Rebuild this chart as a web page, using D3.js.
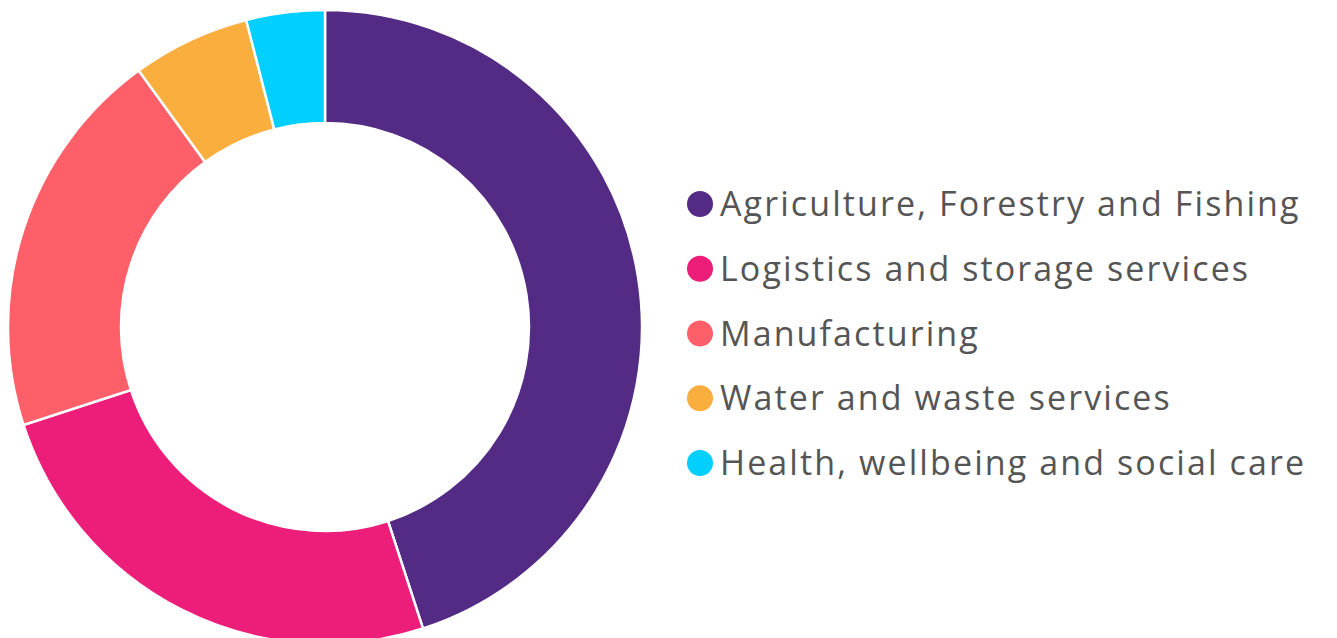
<!DOCTYPE html>
<html>
<head>
<meta charset="utf-8">
<script src="https://cdn.jsdelivr.net/npm/d3@7"></script>
<style>
  body { margin: 0; background: #fff; }
  svg { display: block; }
</style>
</head>
<body>
<div id="chart"></div>
<script>
// data (share of total, %)
var categories = ['Agriculture, Forestry and Fishing',
                  'Logistics and storage services',
                  'Manufacturing',
                  'Water and waste services',
                  'Health, wellbeing and social care']
var values = [45, 25, 20, 6, 4]
var colors = ['#532A84', '#ED1E79', '#FF5F69', '#F9AE3D', '#00CFFF']

var w = 1337, h = 638
var cx = 325, cy = 327
var outerR = 317, innerR = 204

var data = categories.map(function (c, i) { return { name: c, value: values[i] } })

var svg = d3.select('#chart').append('svg')
    .attr('width', w)
    .attr('height', h)

var color = d3.scaleOrdinal().domain(categories).range(colors)

var pie = d3.pie()
    .sort(null)
    .value(function (d) { return d.value })

var arc = d3.arc()
    .innerRadius(innerR)
    .outerRadius(outerR)

// donut
svg.append('g')
    .attr('transform', 'translate(' + cx + ',' + cy + ')')
  .selectAll('path')
    .data(pie(data))
    .enter()
  .append('path')
    .attr('d', arc)
    .attr('fill', function (d) { return color(d.data.name) })
    .attr('stroke', '#fff')
    .attr('stroke-width', 2.5)

// legend
var rowY = d3.scalePoint()
    .domain(categories)
    .range([204, 463])

var legend = svg.append('g')
  .selectAll('g')
    .data(categories)
    .enter()
  .append('g')
    .attr('transform', function (d) { return 'translate(700,' + rowY(d) + ')' })

legend.append('circle')
    .attr('r', 13)
    .attr('fill', function (d) { return color(d) })

legend.append('text')
    .attr('x', 20)
    .attr('y', 12)
    .style('font-family', '"Open Sans", sans-serif')
    .style('font-size', '34px')
    .style('letter-spacing', '2.1px')
    .style('fill', '#555')
    .text(function (d) { return d })
</script>
</body>
</html>
